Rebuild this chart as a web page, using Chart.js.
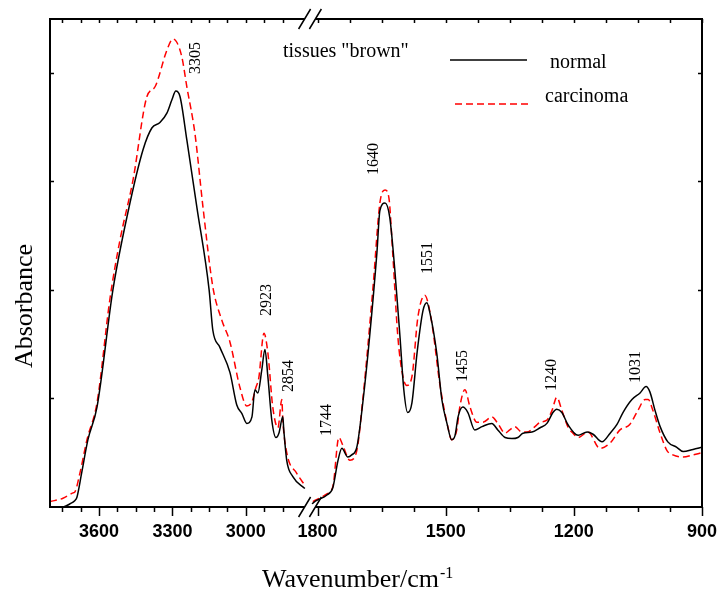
<!DOCTYPE html>
<html lang="en">

<head>
    <meta charset="UTF-8">
    <title>FTIR - tissues "brown"</title>
    <style>
        html, body { margin: 0; padding: 0; background: #fff; }
        #wrap { width: 719px; height: 592px; }
    </style>
</head>

<body>
    <div id="wrap"><canvas id="myChart"></canvas></div>
    <script src="https://cdn.jsdelivr.net/npm/chart.js"></script>
    <script>
        // normal, high wavenumber part (3800 - 2750)
        var normalHighWn = [3800, 3780, 3747, 3718, 3698, 3690, 3671, 3645, 3608, 3543, 3482, 3420, 3384, 3351, 3322,
            3302, 3286, 3269, 3241, 3200, 3150, 3135, 3106, 3065, 3037, 3016, 2996, 2975, 2963, 2951,
            2935, 2922, 2910, 2894, 2877, 2865, 2849, 2845, 2833, 2808, 2759];
        var normalHighAbs = [0, 0, 0, 0.003, 0.006, 0.009, 0.031, 0.062, 0.092, 0.200, 0.271, 0.329, 0.349, 0.354, 0.363,
            0.375, 0.383, 0.378, 0.338, 0.276, 0.200, 0.163, 0.147, 0.124, 0.094, 0.086, 0.077, 0.083, 0.108, 0.105,
            0.126, 0.145, 0.120, 0.080, 0.064, 0.068, 0.083, 0.071, 0.043, 0.028, 0.017];

        // normal, low wavenumber part (1820 - 900)
        var normalLowWn = [1813, 1802, 1778, 1764, 1752, 1743, 1729, 1720, 1708, 1694, 1678, 1661, 1654, 1642, 1631,
            1619, 1607, 1598, 1589, 1579, 1567, 1553, 1544, 1537, 1521, 1509, 1497, 1486, 1478, 1471,
            1460, 1448, 1432, 1415, 1392, 1378, 1361, 1345, 1331, 1319, 1298, 1279, 1263, 1249, 1240,
            1228, 1214, 1190, 1169, 1155, 1134, 1115, 1099, 1085, 1064, 1045, 1031, 1022, 1010, 998,
            980, 959, 944, 921, 900];
        var normalLowAbs = [0.003, 0.006, 0.011, 0.018, 0.043, 0.054, 0.046, 0.048, 0.055, 0.096, 0.157, 0.234, 0.273, 0.280, 0.267,
            0.218, 0.157, 0.108, 0.087, 0.096, 0.142, 0.181, 0.188, 0.179, 0.142, 0.099, 0.077, 0.062, 0.066, 0.083,
            0.092, 0.087, 0.071, 0.074, 0.077, 0.071, 0.064, 0.063, 0.064, 0.068, 0.069, 0.073, 0.077, 0.087, 0.090,
            0.087, 0.076, 0.066, 0.069, 0.067, 0.060, 0.068, 0.076, 0.087, 0.099, 0.105, 0.111, 0.106, 0.089, 0.074,
            0.060, 0.055, 0.051, 0.053, 0.055];

        // carcinoma
        var carcinomaHighWn = [3800, 3747, 3706, 3698, 3678, 3649, 3608, 3555, 3514, 3461, 3404, 3371, 3322, 3298, 3282,
            3261, 3241, 3208, 3175, 3135, 3098, 3065, 3024, 2996, 2975, 2959, 2947, 2926, 2910, 2890,
            2869, 2853, 2849, 2833, 2792, 2759];
        var carcinomaHighAbs = [0.005, 0.008, 0.013, 0.014, 0.031, 0.062, 0.096, 0.192, 0.246, 0.301, 0.378, 0.387, 0.421, 0.431, 0.428,
            0.414, 0.387, 0.344, 0.276, 0.203, 0.172, 0.152, 0.110, 0.093, 0.097, 0.110, 0.119, 0.160, 0.142, 0.092,
            0.073, 0.099, 0.080, 0.050, 0.031, 0.020];

        var carcinomaLowWn = [1811, 1778, 1764, 1750, 1741, 1724, 1708, 1694, 1670, 1654, 1642, 1633, 1624, 1612, 1600,
            1591, 1579, 1565, 1549, 1542, 1530, 1514, 1495, 1486, 1474, 1467, 1455, 1443, 1427, 1413,
            1392, 1378, 1361, 1350, 1338, 1322, 1310, 1291, 1279, 1263, 1251, 1240, 1228, 1214, 1202,
            1190, 1167, 1139, 1115, 1092, 1069, 1050, 1033, 1026, 1015, 998, 982, 968, 944, 921, 900];
        var carcinomaLowAbs = [0.005, 0.012, 0.019, 0.064, 0.057, 0.043, 0.052, 0.099, 0.203, 0.280, 0.292, 0.285, 0.234, 0.157, 0.120,
            0.112, 0.120, 0.175, 0.195, 0.189, 0.163, 0.114, 0.074, 0.062, 0.071, 0.092, 0.108, 0.092, 0.078, 0.078,
            0.083, 0.077, 0.068, 0.071, 0.074, 0.069, 0.069, 0.074, 0.078, 0.080, 0.089, 0.101, 0.089, 0.074, 0.068,
            0.064, 0.069, 0.054, 0.059, 0.071, 0.076, 0.089, 0.099, 0.099, 0.089, 0.068, 0.052, 0.048, 0.046, 0.048, 0.050];

        var xTickWn = [3600, 3300, 3000, 1800, 1500, 1200, 900];
        var peakLabels = ['3305', '2923', '2854', '1744', '1640', '1551', '1455', '1240', '1031'];

        // broken axis: 3800-2750 on the left part, 1820-900 on the right part
        function toAxis(wn) {
            if (wn >= 2300) return (3800 - wn) * 0.2448;
            return 652 - (wn - 900) * 0.4272;
        }

        function buildPoints(hiWn, hiAbs, loWn, loAbs) {
            var pts = [];
            hiWn.forEach(function (w, i) { pts.push({ x: toAxis(w), y: hiAbs[i] }); });
            pts.push({ x: 258, y: null });
            loWn.forEach(function (w, i) { pts.push({ x: toAxis(w), y: loAbs[i] }); });
            return pts;
        }

        // minor ticks every 75
        var minorWn = [];
        for (var w = 3750; w >= 2850; w -= 75) minorWn.push(w);
        for (var w2 = 1800; w2 >= 900; w2 -= 75) minorWn.push(w2);

        var serif = '"Liberation Serif", "Times New Roman", serif';

        var framePlugin = {
            id: 'frame',
            afterDraw: function (chart) {
                var ctx = chart.ctx;
                var a = chart.chartArea;
                var xs = chart.scales.x, ys = chart.scales.y;
                var brkL = xs.getPixelForValue(toAxis(2760));
                var brkR = xs.getPixelForValue(toAxis(1805));
                ctx.save();
                ctx.strokeStyle = '#000';
                ctx.lineWidth = 2;
                ctx.beginPath();
                ctx.moveTo(a.left, a.top); ctx.lineTo(brkL, a.top);
                ctx.moveTo(brkR, a.top); ctx.lineTo(a.right, a.top);
                ctx.moveTo(a.left, a.bottom); ctx.lineTo(brkL, a.bottom);
                ctx.moveTo(brkR, a.bottom); ctx.lineTo(a.right, a.bottom);
                ctx.moveTo(a.left, a.top - 1); ctx.lineTo(a.left, a.bottom + 1);
                ctx.moveTo(a.right, a.top - 1); ctx.lineTo(a.right, a.bottom + 1);
                ctx.stroke();

                // break marks
                ctx.lineWidth = 1.5;
                ctx.beginPath();
                [brkL, brkR].forEach(function (cx) {
                    [a.top, a.bottom].forEach(function (cy) {
                        ctx.moveTo(cx - 6, cy + 10);
                        ctx.lineTo(cx + 6, cy - 10);
                    });
                });
                ctx.stroke();

                // x ticks
                ctx.lineWidth = 1.5;
                ctx.beginPath();
                minorWn.forEach(function (wn) {
                    var px = Math.round(xs.getPixelForValue(toAxis(wn))) + 0.5;
                    var major = xTickWn.indexOf(wn) >= 0;
                    ctx.moveTo(px, a.bottom);
                    ctx.lineTo(px, a.bottom + (major ? 9 : 5));
                    ctx.moveTo(px, a.top);
                    ctx.lineTo(px, a.top + 4);
                });
                // y ticks
                [0.1, 0.2, 0.3, 0.4].forEach(function (v) {
                    var py = Math.round(ys.getPixelForValue(v)) + 0.5;
                    ctx.moveTo(a.left, py); ctx.lineTo(a.left + 4, py);
                    ctx.moveTo(a.right, py); ctx.lineTo(a.right - 4, py);
                });
                ctx.stroke();

                // title and legend
                ctx.fillStyle = '#000';
                ctx.font = '20px ' + serif;
                ctx.textAlign = 'left';
                ctx.textBaseline = 'alphabetic';
                ctx.fillText('tissues "brown"', 283, 57);
                ctx.fillText('normal', 550, 68);
                ctx.fillText('carcinoma', 545, 102);
                ctx.beginPath();
                ctx.lineWidth = 1.5;
                ctx.moveTo(450, 60); ctx.lineTo(527, 60);
                ctx.stroke();
                ctx.beginPath();
                ctx.strokeStyle = '#ff0000';
                ctx.setLineDash([7, 4]);
                ctx.moveTo(455, 104); ctx.lineTo(528, 104);
                ctx.stroke();
                ctx.setLineDash([]);

                // peak labels (rotated)
                var labelPos = [[196, 58], [267, 300], [289, 376], [327, 420], [374, 159], [428, 258], [463, 366], [552, 375], [636, 367]];
                ctx.font = '16px ' + serif;
                ctx.textAlign = 'center';
                ctx.textBaseline = 'middle';
                peakLabels.forEach(function (txt, i) {
                    ctx.save();
                    ctx.translate(labelPos[i][0], labelPos[i][1]);
                    ctx.rotate(-Math.PI / 2);
                    ctx.fillText(txt, 0, 0);
                    ctx.restore();
                });

                // axis titles
                ctx.font = '26px ' + serif;
                ctx.textBaseline = 'alphabetic';
                ctx.save();
                ctx.translate(32, 306);
                ctx.rotate(-Math.PI / 2);
                ctx.textAlign = 'center';
                ctx.fillText('Absorbance', 0, 0);
                ctx.restore();
                ctx.textAlign = 'left';
                ctx.fillText('Wavenumber/cm', 262, 587);
                var wTitle = ctx.measureText('Wavenumber/cm').width;
                ctx.font = '16px ' + serif;
                ctx.fillText('-1', 262 + wTitle + 1, 578);
                ctx.restore();
            }
        };

        var ctx01 = document.getElementById('myChart');
        var mychart = new Chart(ctx01, {
            type: 'line',
            data: {
                datasets: [{
                    label: 'normal',
                    data: buildPoints(normalHighWn, normalHighAbs, normalLowWn, normalLowAbs),
                    borderColor: '#000000',
                    borderWidth: 1.5,
                    pointRadius: 0,
                    fill: false,
                    cubicInterpolationMode: 'monotone'
                }, {
                    label: 'carcinoma',
                    data: buildPoints(carcinomaHighWn, carcinomaHighAbs, carcinomaLowWn, carcinomaLowAbs),
                    borderColor: '#ff0000',
                    borderWidth: 1.5,
                    borderDash: [7, 4],
                    pointRadius: 0,
                    fill: false,
                    cubicInterpolationMode: 'monotone'
                }]
            },
            options: {
                responsive: true,
                maintainAspectRatio: false,
                animation: false,
                layout: { padding: { top: 19, right: 17, left: 50, bottom: 0 } },
                plugins: {
                    legend: { display: false },
                    tooltip: { enabled: false }
                },
                scales: {
                    x: {
                        type: 'linear',
                        min: 0,
                        max: 652,
                        grid: { display: false, drawTicks: false },
                        border: { display: false },
                        afterBuildTicks: function (scale) {
                            scale.ticks = xTickWn.map(function (w) { return { value: toAxis(w) }; });
                        },
                        afterFit: function (scale) {
                            scale.height = 85;
                            scale.paddingLeft = 0;
                            scale.paddingRight = 0;
                        },
                        ticks: {
                            autoSkip: false,
                            maxRotation: 0,
                            padding: 14,
                            color: '#000',
                            font: { family: '"Liberation Sans", Arial, sans-serif', size: 18, weight: 'bold' },
                            callback: function (value, index) { return xTickWn[index]; }
                        }
                    },
                    y: {
                        display: false,
                        min: 0,
                        max: 0.4494
                    }
                }
            },
            plugins: [framePlugin]
        });
    </script>
</body>

</html>
